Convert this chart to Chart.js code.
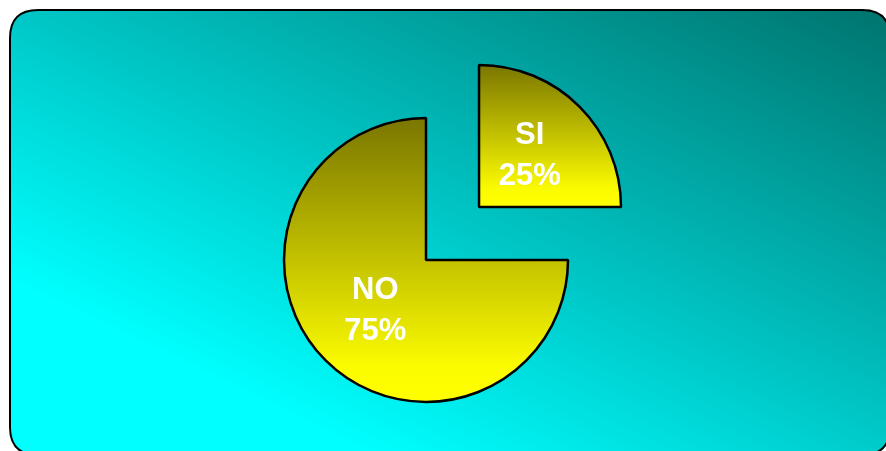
<!DOCTYPE html>
<html>
<head>
<meta charset="utf-8">
<script src="https://cdn.jsdelivr.net/npm/chart.js@4/dist/chart.umd.min.js"></script>
<style>
html,body{margin:0;padding:0;background:#ffffff;}
#wrap{width:886px;height:451px;position:relative;}
canvas{display:block;}
</style>
</head>
<body>
<div id="wrap"><canvas id="c" width="886" height="451"></canvas></div>
<script>
const categories = ['SI', 'NO'];
const values = [25, 75];
const percentLabels = ['25%', '75%'];

const RADIUS = 142;
const EXPLODE = [300, 0];

function rr(ctx, x, y, w, h, r) {
  ctx.beginPath();
  ctx.moveTo(x + r, y);
  ctx.lineTo(x + w - r, y);
  ctx.quadraticCurveTo(x + w, y, x + w, y + r);
  ctx.lineTo(x + w, y + h - r);
  ctx.quadraticCurveTo(x + w, y + h, x + w - r, y + h);
  ctx.lineTo(x + r, y + h);
  ctx.quadraticCurveTo(x, y + h, x, y + h - r);
  ctx.lineTo(x, y + r);
  ctx.quadraticCurveTo(x, y, x + r, y);
  ctx.closePath();
}

const bgPlugin = {
  id: 'bgPanel',
  beforeDraw(chart) {
    const ctx = chart.ctx;
    ctx.save();
    ctx.fillStyle = '#ffffff';
    ctx.fillRect(0, 0, chart.width, chart.height);
    const g = ctx.createLinearGradient(-84, 236, 187, -327);
    g.addColorStop(0, 'rgb(0,255,255)');
    g.addColorStop(0.384, 'rgb(0,200,200)');
    g.addColorStop(1, 'rgb(0,116,110)');
    rr(ctx, 10, 10, 880, 445, 28);
    ctx.fillStyle = g;
    ctx.fill();
    ctx.lineWidth = 2;
    ctx.strokeStyle = '#000000';
    ctx.stroke();
    ctx.restore();
  }
};

const labelPlugin = {
  id: 'sliceLabels',
  afterDatasetsDraw(chart) {
    const ctx = chart.ctx;
    const meta = chart.getDatasetMeta(0);
    ctx.save();
    ctx.fillStyle = '#ffffff';
    ctx.font = 'bold 31px "Liberation Sans", Arial, sans-serif';
    ctx.textAlign = 'center';
    ctx.textBaseline = 'middle';
    meta.data.forEach((arc, i) => {
      const p = arc.getProps(['x', 'y', 'startAngle', 'endAngle', 'outerRadius', 'circumference']);
      const h = (p.startAngle + p.endAngle) / 2;
      const off = (arc.options.offset || 0) / 4;
      const fix = 1 - Math.sin(Math.min(Math.PI, p.circumference || 0));
      const t = off * (1 + fix);
      const d = t + 0.505 * p.outerRadius;
      const cx = p.x + Math.cos(h) * d;
      const cy = p.y + Math.sin(h) * d;
      ctx.fillText(categories[i], cx, cy - 20.5);
      ctx.fillText(percentLabels[i], cx, cy + 20.5);
    });
    ctx.restore();
  }
};

// Gradient in the arc's own (already translated) drawing frame
function sliceFill(context) {
  const chart = context.chart;
  const area = chart.chartArea;
  if (!area) return '#ffff00';
  const cy = (area.top + area.bottom) / 2;
  const i = context.dataIndex;
  let top = cy - RADIUS, bottom = cy + RADIUS;
  if (i === 0) { bottom = cy; }
  const g = chart.ctx.createLinearGradient(0, top, 0, bottom);
  g.addColorStop(0, 'rgb(122,118,0)');
  g.addColorStop(0.88, 'rgb(252,252,0)');
  g.addColorStop(1, 'rgb(255,255,0)');
  return g;
}

new Chart(document.getElementById('c'), {
  type: 'pie',
  data: {
    labels: categories,
    datasets: [{
      data: values,
      backgroundColor: sliceFill,
      borderColor: '#000000',
      borderWidth: 2.5,
      offset: EXPLODE
    }]
  },
  options: {
    responsive: false,
    animation: false,
    radius: RADIUS,
    layout: { padding: { left: 0, right: 34, top: 69, bottom: 0 } },
    plugins: {
      legend: { display: false },
      tooltip: { enabled: false }
    },
    events: []
  },
  plugins: [bgPlugin, labelPlugin]
});
</script>
</body>
</html>
